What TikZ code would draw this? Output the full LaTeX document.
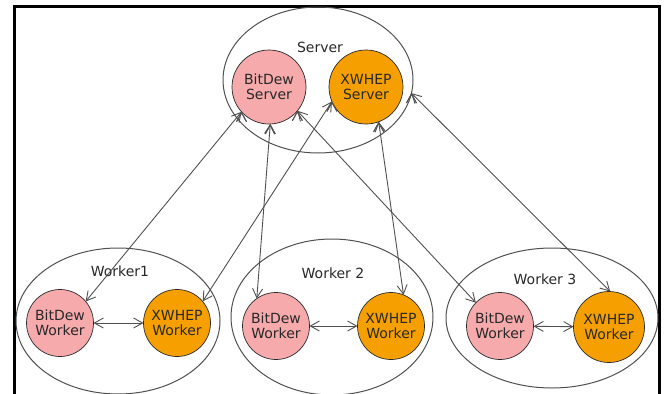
\documentclass[tikz,border=0pt]{standalone}
\usepackage{fontspec}
\setmainfont{DejaVu Sans}
\usetikzlibrary{shapes.geometric,arrows.meta}
\definecolor{bitdewpink}{RGB}{246,170,172}
\definecolor{xwheporange}{RGB}{245,160,0}
\definecolor{linegray}{RGB}{80,80,80}
\definecolor{textgray}{RGB}{40,40,40}

\begin{document}
\begin{tikzpicture}[x=1pt, y=-1pt,
	every node/.style={font=\fontsize{14}{15.5}\selectfont, text=textgray},
	host/.style={draw=linegray, line width=1pt, ellipse, outer sep=0, inner sep=0},
	bitdew/.style={draw=textgray, line width=0.7pt, fill=bitdewpink, circle, outer sep=0, inner sep=0, align=center, minimum size=67},
	xwhep/.style={bitdew, fill=xwheporange},
	link/.style={draw=linegray, line width=0.9pt, {Straight Barb[length=9pt,width=10pt]}-{Straight Barb[length=9pt,width=10pt]}}]
		\useasboundingbox (0,0) rectangle (665,394);
		\draw[line width=3pt] (14,394) -- (14,6.5) -- (659,6.5) -- (659,394);
		% server side
		\node [host,minimum width=190,minimum height=146] (srv) at (318,80) {};
		\node (tsrv) at (320,47) {Server};
		\node [bitdew,minimum size=74] (bs) at (269,87) {BitDew\\Server};
		\node [xwhep,minimum size=74] (xs) at (366,87) {XWHEP\\Server};
		% workers
		\node [host,minimum width=204,minimum height=146] (w1) at (118,321) {};
		\node (tw1) at (120,271) {Worker1};
		\node [bitdew] (b1) at (60,323) {BitDew\\Worker};
		\node [xwhep] (x1) at (177,323) {XWHEP\\Worker};
		\node [host,minimum width=202,minimum height=156] (w2) at (332,317) {};
		\node (tw2) at (333,273) {Worker 2};
		\node [bitdew] (b2) at (276,326) {BitDew\\Worker};
		\node [xwhep] (x2) at (391,326) {XWHEP\\Worker};
		\node [host,minimum width=212,minimum height=140] (w3) at (552,318) {};
		\node (tw3) at (545,279) {Worker 3};
		\node [bitdew] (b3) at (500,326) {BitDew\\Worker};
		\node [xwhep,minimum size=71] (x3) at (609,327) {XWHEP\\Worker};
		% links
		\draw[link] (bs.222) edge (b1.40);
		\draw[link] (xs.203) edge (x1.40);
		\draw[link] (bs.272) edge (b2.125);
		\draw[link] (xs.290) edge (x2.68);
		\draw[link] (bs.320) edge (b3.136);
		\draw[link] (srv.-8) edge (x3.88);
		\draw[link] (b1) edge (x1);
		\draw[link] (b2) edge (x2);
		\draw[link] (b3) edge (x3);
\end{tikzpicture}
\end{document}
